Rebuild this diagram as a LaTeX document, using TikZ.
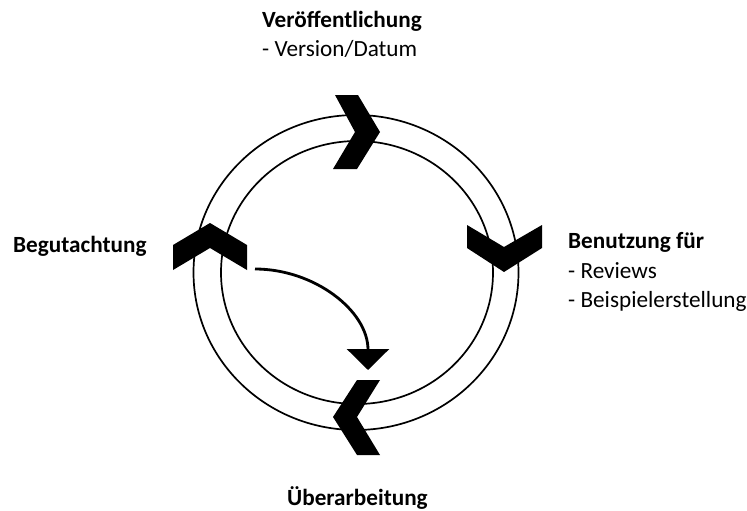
\documentclass[tikz,border=0pt]{standalone}
\usepackage{fontspec}
\setmainfont{Carlito}
\usetikzlibrary{arrows.meta}
\tikzset{
  lbl/.style={anchor=base west, inner sep=0pt, font=\fontsize{23.2}{27}\selectfont},
  lblb/.style={lbl, font=\fontsize{23.2}{27}\selectfont\bfseries},
  ring/.style={draw=black, line width=1.7pt},
  chev/.style={fill=black, draw=none},
  flow/.style={line width=2.8pt, -{Triangle[width=42pt,length=21pt]}}
}
\begin{document}
\begin{tikzpicture}[x=1pt,y=-1pt]
\useasboundingbox (0,0) rectangle (747,511);
% rings
\draw[ring] (356,272.5) ellipse [x radius=162.5, y radius=157.5];
\draw[ring] (357,272.5) ellipse [x radius=136, y radius=131.5];
% chevrons
\fill[chev] (335,95) -- (358,95) -- (380,132) -- (357,169) -- (333,169) -- (355,132) -- cycle; % top, right-pointing
\fill[chev] (467,225) -- (504,247) -- (542,225) -- (542,248) -- (504,272) -- (467,248) -- cycle; % right, down-pointing
\fill[chev] (380,380) -- (357,380) -- (333,417) -- (357,455) -- (380,455) -- (357,417) -- cycle; % bottom, left-pointing
\fill[chev] (210,223) -- (247,245) -- (247,270) -- (210,248) -- (173,270) -- (173,245) -- cycle; % left, up-pointing
% arrow
\coordinate (as) at (255,269);
\coordinate (ae) at (368,370);
\draw[flow] (as) to[out=0,in=90] (ae);
% labels
\node[lblb] (t1) at (262,28) {Veröffentlichung};
\node[lbl] (t2) at (262,57) {- Version/Datum};
\node[lblb] (l1) at (13,252) {Begutachtung};
\node[lblb] (r1) at (568,248) {Benutzung für};
\node[lbl] (r2) at (568,278) {- Reviews};
\node[lbl] (r3) at (568,307) {- Beispielerstellung};
\node[lblb] (b1) at (287,505) {Überarbeitung};
\end{tikzpicture}
\end{document}
